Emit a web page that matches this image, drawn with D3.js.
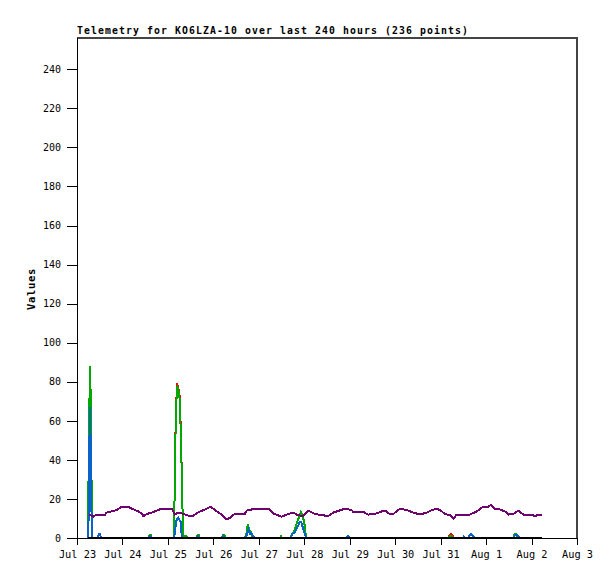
<!DOCTYPE html>
<html><head><meta charset="utf-8">
<script src="https://cdn.jsdelivr.net/npm/d3@7"></script>
<style>
html,body{margin:0;padding:0;background:#fff;}
svg{display:block;}
</style></head>
<body>
<svg id="chart" width="615" height="579"></svg>
<script>
// ---- data (hours after Jul 23 00:00, value) ----
const title = "Telemetry for KO6LZA-10 over last 240 hours (236 points)";
const yLabel = "Values";
const startDate = "2023-07-23T00:00:00Z";
const endDate = "2023-08-03T00:00:00Z";
const yTicks = [0,20,40,60,80,100,120,140,160,180,200,220,240];
const yMax = 256;

const redSeries = [
  [5.8,0],[6.0,22],[6.5,67],[7.0,88],[7.5,44],[8.0,0],
  [51.2,0],[51.5,20],[52.1,60],[52.8,79.5],[53.5,77],[54.2,72.5],[54.9,53],[55.6,18],[56.2,1],[57.8,1],[58.0,0],
  [196.0,0],[197.2,2],[198.3,1.6],[199.0,0]
];
const greenSeries = [
  [5.8,0],[6.0,22],[6.5,67],[7.0,88],[7.5,44],[8.0,0],
  [37.5,0],[38.3,1.5],[39.0,1.5],[39.6,0],
  [51.2,0],[51.5,20],[52.1,59],[52.8,78],[53.5,76],[54.2,71],[54.9,52],[55.6,18],[56.2,1],[57.8,1],[58.0,0],
  [62.8,0],[63.6,1.5],[64.3,1.5],[64.9,0],
  [76.4,0],[77.2,1.5],[77.9,1.5],[78.5,0],
  [88.6,0],[89.4,2],[90.2,7],[91.0,4],[91.8,3],[92.5,1],[93.2,0],
  [107.2,0],[107.7,1],[108.2,0],
  [112.8,0],[113.4,2],[114.6,3],[115.8,7],[117.0,10],[118.2,13.5],[119.2,11],[120.0,8],[120.7,2],[121.2,0],
  [196.0,0],[197.0,1],[198.0,1],[198.5,0],
  [230.3,0],[231.0,2],[232.0,2],[232.7,0]
];
const blueSeries = [
  [5.8,0],[6.0,3],[6.3,25],[6.6,52],[6.9,67],[7.3,44],[7.6,20],[7.8,0],
  [10.9,0],[11.5,1.8],[12.2,1.8],[12.7,0],
  [37.8,0],[38.5,1],[39.3,0],
  [51.3,0],[51.8,4],[52.3,8],[52.8,10],[53.5,10.5],[54.2,9],[54.9,8],[55.3,0],
  [63.0,0],[63.8,1],[64.5,0],
  [76.7,0],[77.4,1],[78.1,0],
  [88.6,0],[89.6,1.5],[90.5,4.5],[91.4,2],[92.2,2.5],[93.0,1],[93.6,0],
  [112.9,0],[113.6,2],[115.0,3],[116.2,5],[117.5,8],[118.5,8],[119.6,4],[120.4,2],[121.0,0],
  [142.0,0],[143.0,1],[144.0,0],
  [203.8,0],[204.3,0.8],[205.0,0],
  [206.3,0],[207.5,1.5],[208.2,2],[209.2,1],[210.0,0],
  [230.5,0],[231.3,1.7],[232.5,1.7],[233.5,0]
];
const purpleSeries = [
  [6.5,12],[8.6,11],[10.4,12],[14.8,12],[15.7,13],[18.3,13.6],[21.0,14.3],[23.6,16],[27.1,16],[28.9,15],
  [31.5,14],[34.2,12.6],[35.0,11.2],[36.8,12.3],[39.4,13],[42.1,14],[44.7,15],[50.0,15],[51.7,12],[53.5,13],
  [55.3,12.6],[57.0,12],[60.6,11],[62.3,12],[64.9,13.6],[67.6,14.6],[70.6,16],[72.9,14.3],[76.4,12],[79.0,9.6],
  [80.8,10.3],[82.5,12],[88.7,12.5],[89.6,14],[94.0,15],[101.0,15],[103.6,12.6],[108.1,10.9],[110.7,12],[114.2,13],
  [116.0,12],[119.2,11.2],[122.1,14],[125.7,12.3],[132.7,11.2],[135.3,13],[141.5,15],[145.0,14.3],[145.9,13.3],[151.2,13.3],
  [153.8,12],[157.3,12.3],[160.9,13.6],[163.5,13.6],[165.3,12],[167.0,12.3],[170.5,15],[174.1,14.3],[177.6,13],[181.1,12],
  [184.6,13],[187.3,14.3],[189.9,15],[191.7,14.3],[194.3,12.3],[197.0,11.6],[198.7,9.9],[200.5,12],[207.5,12],[211.0,13.6],
  [214.5,16],[217.2,16],[218.6,17],[220.7,15],[223.3,14.6],[226.0,13.6],[227.7,12],[230.4,12.3],[233.0,14],[235.7,12],
  [240.1,12],[241.8,11.2],[243.6,12],[245.4,12]
];
const blackSeries = [[5.8,0],[245.4,0]];

// ---- layout ----
const svg = d3.select("#chart");
const L = 77, R = 577, T = 38, B = 538;
const t0 = new Date(startDate).getTime();
const toDate = h => new Date(t0 + h * 3600e3);

const x = d3.scaleUtc().domain([new Date(startDate), new Date(endDate)]).range([L, R]);
const y = d3.scaleLinear().domain([0, yMax]).range([B, T]);

// frame (top & right)
svg.append("path")
  .attr("d", `M${L},${T}H${R}V${B}`)
  .attr("fill","none").attr("stroke","#444").attr("stroke-width",1.2)
  .attr("shape-rendering","crispEdges");

// y axis
const yAxis = d3.axisLeft(y).tickValues(yTicks).tickSize(10).tickPadding(6).tickSizeOuter(0);
const gy = svg.append("g").attr("transform", `translate(${L},0)`).call(yAxis);
gy.select(".domain").remove();
gy.selectAll("line").attr("stroke","#000").attr("shape-rendering","crispEdges");
gy.selectAll("text").attr("font-family","'DejaVu Sans Mono', monospace").attr("font-size","10px").attr("fill","#000");
svg.append("line").attr("x1",L).attr("x2",L).attr("y1",T).attr("y2",B+7)
  .attr("stroke","#000").attr("shape-rendering","crispEdges");

// x axis
const xAxis = d3.axisBottom(x).ticks(d3.utcDay.every(1)).tickFormat(d3.utcFormat("%b %-d"))
  .tickSize(7).tickPadding(6).tickSizeOuter(0);
const gx = svg.append("g").attr("transform", `translate(0,${B})`).call(xAxis);
gx.select(".domain").attr("stroke","#000").attr("shape-rendering","crispEdges");
gx.selectAll("line").attr("stroke","#000").attr("shape-rendering","crispEdges");
gx.selectAll("text").attr("font-family","'DejaVu Sans Mono', monospace").attr("font-size","10.3px").attr("fill","#000");

// series
const line = d3.line().x(d => x(toDate(d[0]))).y(d => y(d[1]));
const series = [
  {data: redSeries, color: "#ff0000", w: 2},
  {data: greenSeries, color: "#00a800", w: 2},
  {data: blueSeries, color: "#0a64c8", w: 2},
  {data: purpleSeries, color: "#700070", w: 2},
  {data: blackSeries, color: "#000000", w: 2.5}
];
series.forEach(s => {
  svg.append("path").datum(s.data)
    .attr("d", line)
    .attr("fill","none").attr("stroke", s.color).attr("stroke-width", s.w)
    .attr("stroke-linejoin","miter")
    .attr("shape-rendering","crispEdges");
});

// title
svg.append("text").attr("x", L).attr("y", 33.5)
  .attr("font-family","'DejaVu Sans Mono', monospace").attr("font-weight","bold").attr("font-size","9.8px")
  .attr("letter-spacing","1.1px")
  .text(title);

// y label
svg.append("text").attr("transform","translate(35,289) rotate(-90)")
  .attr("text-anchor","middle")
  .attr("font-family","'DejaVu Sans Mono', monospace").attr("font-weight","bold").attr("font-size","10.5px")
  .attr("letter-spacing","0.7px")
  .text(yLabel);
</script>
</body></html>
